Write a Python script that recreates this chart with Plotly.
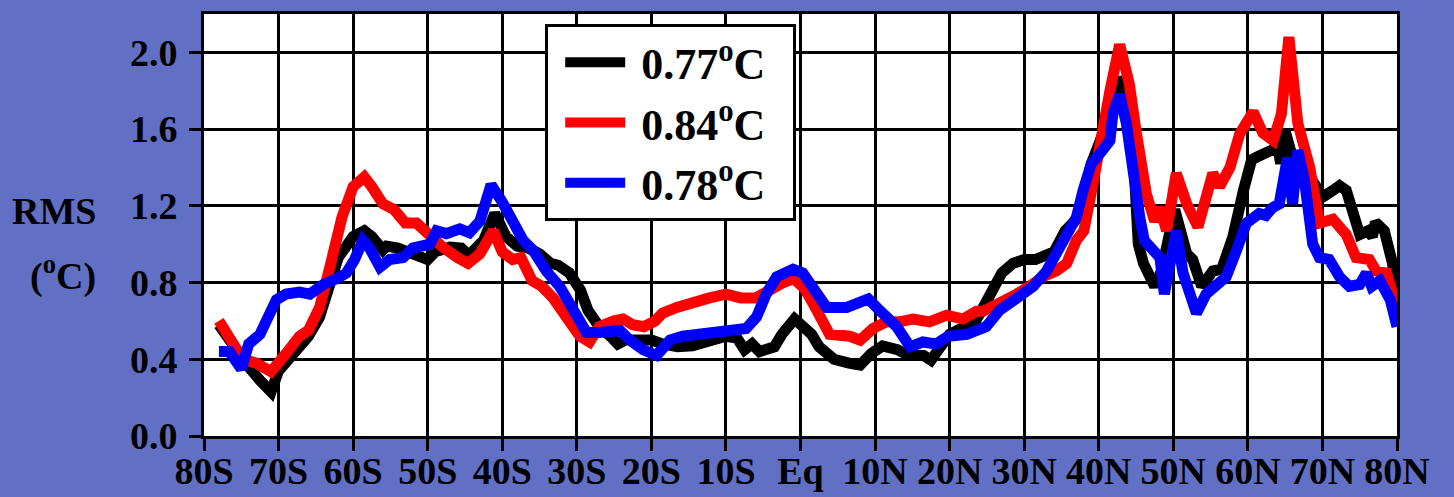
import plotly.graph_objects as go

# Latitude (deg, negative = south) and RMS (deg C) for each series
lat_black = [-78, -76, -74, -72.5, -71, -70, -68.5, -67, -66, -64.5, -63, -62, -60, -58.5, -57.5, -56, -55.5, -54,
             -52, -50, -49, -47, -45.5, -44.5, -42.5, -41, -39.5, -38, -36.5, -35, -33.5, -32.5, -31, -29.5,
             -28.5, -27, -25.5, -24.5, -23.5, -21.5, -20, -18.5, -16.5, -14.5, -12, -10, -8.5, -7.5, -6.5, -5.5,
             -3.5, -2.5, -0.8, 0.5, 1.5, 2.5, 4.5, 6.5, 8, 9.5, 11, 13, 14.5, 16.5, 17.5, 18.5, 20, 22, 23.5,
             24.5, 26, 27, 28.5, 30, 31.5, 33, 34, 35.5, 37, 38, 39, 40, 42, 42.8, 43.7, 44.6, 45.3, 46, 47.5,
             48.4, 50.2, 51.8, 52.6, 53.8, 55.3, 56.5, 58, 59.4, 60.5, 61.5, 63, 64, 64.4, 65, 66, 67.4, 69, 70,
             71.4, 72.3, 73.2, 74.1, 75, 76.1, 76.7, 77.1, 78.3, 79.4, 80]
rms_black = [0.58, 0.46, 0.36, 0.29, 0.23, 0.34, 0.40, 0.46, 0.52, 0.62, 0.79, 0.93, 1.04, 1.07, 1.04, 0.97, 0.99, 0.98,
             0.95, 0.92, 0.96, 0.985, 0.98, 0.94, 1.02, 1.16, 1.04, 0.99, 0.98, 0.95, 0.90, 0.89, 0.85, 0.76,
             0.655, 0.57, 0.52, 0.48, 0.50, 0.50, 0.50, 0.48, 0.465, 0.47, 0.49, 0.52, 0.51, 0.45, 0.48, 0.44,
             0.465, 0.53, 0.61, 0.57, 0.53, 0.465, 0.40, 0.38, 0.37, 0.43, 0.47, 0.45, 0.42, 0.42, 0.395, 0.45, 0.53, 0.57, 0.60,
             0.67, 0.79, 0.85, 0.90, 0.92, 0.92, 0.95, 0.96, 1.07, 1.13, 1.245, 1.42, 1.52, 1.73, 1.87, 1.765, 1.505, 1.00, 0.90, 0.78,
             0.86, 1.18, 0.95, 0.92, 0.78, 0.86, 0.87, 1.04, 1.28, 1.44, 1.46, 1.48, 1.505, 1.42, 1.59, 1.45, 1.40, 1.31, 1.245,
             1.28, 1.305, 1.28, 1.14, 1.05, 1.07, 1.04, 1.115, 1.07, 0.90, 0.66]

lat_red = [-78, -76.5, -74.8, -73, -71, -69, -67.2, -66, -64.5, -63, -61.5, -60, -58.5, -57.5, -56, -54.5, -53, -51.5,
           -49.7, -48, -46, -44.6, -43, -41.2, -40, -38.6, -37.5, -36, -34.7, -33.2, -31.4, -29.6, -28.3, -27, -25,
           -23.8, -22.5, -21, -19.5, -18.5, -16.6, -14.4, -12.2, -10, -8, -6, -4, -2.3, -0.9, 0.5, 1.7, 3.9, 6.6, 8,
           9.7, 11.5, 13.3, 15.1, 17.3, 19.6, 21.8, 23.6, 24.5, 26.7, 29, 30.7, 32.5, 34.3, 35.7, 37, 38, 39.2, 40.2,
           41.5, 42.8, 44.1, 45, 46.4, 47.5, 48.2, 49.1, 50.4, 51.8, 53.3, 55.3, 56.2, 57.6, 58.9, 60.7, 62, 63.4,
           64.5, 65.5, 66.7, 68.3, 69.6, 71.4, 73.2, 74.5, 76.3, 77.2, 78.6, 79.9]
rms_red = [0.60, 0.50, 0.40, 0.38, 0.335, 0.43, 0.52, 0.55, 0.67, 0.90, 1.14, 1.30, 1.35, 1.30, 1.21, 1.18, 1.11, 1.11,
           1.04, 0.985, 0.93, 0.90, 0.95, 1.07, 0.96, 0.92, 0.93, 0.81, 0.78, 0.72, 0.62, 0.52, 0.49, 0.57, 0.60,
           0.61, 0.58, 0.57, 0.60, 0.64, 0.67, 0.70, 0.72, 0.74, 0.72, 0.72, 0.77, 0.80, 0.82, 0.77, 0.69, 0.53, 0.52, 0.50,
           0.56, 0.595, 0.595, 0.61, 0.595, 0.63, 0.61, 0.65, 0.65, 0.69, 0.74, 0.78, 0.83, 0.86, 0.90, 1.02, 1.07, 1.31, 1.55,
           1.80, 2.04, 1.835, 1.59, 1.26, 1.12, 1.19, 1.07, 1.37, 1.21, 1.09, 1.37, 1.30, 1.40, 1.575, 1.69, 1.58, 1.54,
           1.68, 2.08, 1.63, 1.40, 1.11, 1.13, 1.05, 0.93, 0.92, 0.86, 0.85, 0.68]

lat_blue = [-78, -76.6, -75, -74, -72.5, -71.2, -70.3, -69, -67.2, -65.8, -64, -62.2, -60.9, -59.8, -58.7, -57.8, -56.4,
            -55.1, -53.3, -52, -50.6, -49.7, -48.8, -47.5, -45.7, -44.4, -43, -41.5, -40, -38.5, -37.2, -35.9, -34.1,
            -32.3, -30.5, -28.7, -27, -24.2, -22.9, -21.1, -19.3, -17.5, -15.8, -13.5, -11.3, -9, -7.3, -5.9, -4.6,
            -3.2, -1, 0.3, 1.7, 3.5, 6.2, 7.9, 9.1, 10.6, 12.9, 14.7, 16.4, 18.2, 19.8, 22.3, 24.9, 26.7, 29, 31.2, 33,
            34.3, 35.7, 37, 37.9, 39, 40.1, 41.5, 41.9, 42.8, 43.7, 44.6, 45.5, 46.1, 47.3, 48.2, 48.8, 50.4, 51.3,
            53.1, 54.4, 55.8, 57.1, 58.5, 59.8, 61.5, 62.4, 63.3, 64.2, 65.3, 66, 66.7, 67.6, 68.7, 69.6, 70.9, 72.3,
            73.6, 75, 75.9, 76.6, 77.7, 79.1, 80]
rms_blue = [0.44, 0.44, 0.35, 0.48, 0.53, 0.62, 0.71, 0.74, 0.75, 0.74, 0.79, 0.82, 0.85, 0.92, 1.02, 0.98, 0.88,
            0.92, 0.93, 0.98, 0.985, 1.00, 1.07, 1.055, 1.08, 1.06, 1.12, 1.31, 1.22, 1.11, 1.02, 0.97, 0.86,
            0.78, 0.655, 0.54, 0.54, 0.55, 0.50, 0.45, 0.42, 0.50, 0.52, 0.53, 0.53, 0.54, 0.56, 0.62, 0.74,
            0.83, 0.87, 0.85, 0.76, 0.67, 0.67, 0.70, 0.715, 0.655, 0.57, 0.465, 0.49, 0.48, 0.52, 0.53, 0.57, 0.655, 0.715, 0.78, 0.86,
            0.95, 1.07, 1.14, 1.28, 1.42, 1.47, 1.54, 1.68, 1.78, 1.63, 1.33, 1.14, 1.02, 0.97, 0.93, 0.74, 1.07, 0.85,
            0.64, 0.74, 0.79, 0.83, 0.97, 1.11, 1.16, 1.15, 1.19, 1.21, 1.45, 1.21, 1.49, 1.33, 1.00, 0.93, 0.92, 0.83,
            0.78, 0.79, 0.85, 0.78, 0.81, 0.71, 0.57]

series_names = ["&nbsp;0.77<sup>o</sup>C&nbsp;&nbsp;", "&nbsp;0.84<sup>o</sup>C&nbsp;&nbsp;", "&nbsp;0.78<sup>o</sup>C&nbsp;&nbsp;"]
series_colors = ["#000000", "#FF0000", "#0000FF"]

x_tickvals = [-80, -70, -60, -50, -40, -30, -20, -10, 0, 10, 20, 30, 40, 50, 60, 70, 80]
x_ticktext = ["80S", "70S", "60S", "50S", "40S", "30S", "20S", "10S", "Eq",
              "10N", "20N", "30N", "40N", "50N", "60N", "70N", "80N"]
y_tickvals = [0.0, 0.4, 0.8, 1.2, 1.6, 2.0]

FONT = "Liberation Serif, Times New Roman, serif"
BG = "#6170C4"

fig = go.Figure()
for lat, rms, name, col in zip([lat_black, lat_red, lat_blue],
                               [rms_black, rms_red, rms_blue],
                               series_names, series_colors):
    fig.add_trace(go.Scatter(x=lat, y=rms, mode="lines", name=name,
                             line=dict(color=col, width=11)))

axis_common = dict(showline=True, linecolor="black", linewidth=3, mirror=True,
                   showgrid=True, gridcolor="black", gridwidth=3,
                   ticks="outside", ticklen=12, tickwidth=3, tickcolor="black",
                   zeroline=False, automargin=False,
                   tickfont=dict(family=FONT, size=38, color="black", weight="bold"))

fig.update_xaxes(range=[-80, 80], tickvals=x_tickvals, ticktext=x_ticktext,
                 ticklabelstandoff=-13, **axis_common)
fig.update_yaxes(range=[0, 2.2], tickvals=y_tickvals, tickformat=".1f",
                 ticklabelstandoff=4, **axis_common)

fig.update_layout(
    width=1454, height=497,
    margin=dict(l=204, r=57, t=14, b=61),
    paper_bgcolor=BG, plot_bgcolor="white",
    font=dict(family=FONT, color="black"),
    showlegend=True,
    legend=dict(x=0.286, y=0.976, xanchor="left", yanchor="top",
                bgcolor="white", bordercolor="black", borderwidth=3,
                font=dict(family=FONT, size=44, color="black", weight="bold"),
                itemwidth=60, tracegroupgap=0, indentation=12),
    annotations=[
        dict(text="<b>RMS</b>", xref="paper", yref="paper", x=-0.0889, y=0.533,
             xanchor="right", yanchor="middle", showarrow=False,
             font=dict(family=FONT, size=38, color="black")),
        dict(text="<b>(<sup>o</sup>C)</b>", xref="paper", yref="paper", x=-0.0889, y=0.386,
             xanchor="right", yanchor="middle", showarrow=False,
             font=dict(family=FONT, size=38, color="black")),
    ],
)

fig.write_html("out.html", config={"displayModeBar": False},
               post_script="document.body.style.margin='0';document.body.style.background='" + BG + "';")
